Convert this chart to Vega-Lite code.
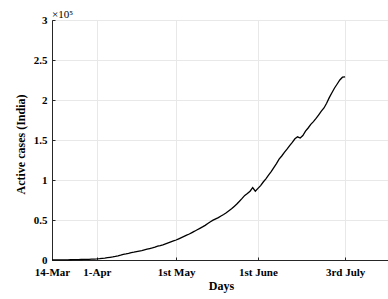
{
  "$schema": "https://vega.github.io/schema/vega-lite/v6.json",
  "width": 338,
  "height": 240,
  "autosize": {"type": "none"},
  "padding": {"left": 52, "top": 20, "right": 0, "bottom": 39},
  "background": "white",
  "title": {
    "text": "×10⁵",
    "anchor": "start",
    "frame": "group",
    "baseline": "bottom",
    "offset": 0,
    "dy": 17,
    "font": "Liberation Serif",
    "fontSize": 11,
    "fontWeight": "normal",
    "color": "#000000"
  },
  "config": {
    "view": {"stroke": "#262626", "strokeWidth": 1},
    "axis": {
      "labelFont": "Liberation Serif",
      "labelFontWeight": "bold",
      "labelFontSize": 11,
      "labelColor": "#000000",
      "titleFont": "Liberation Serif",
      "titleFontWeight": "bold",
      "titleFontSize": 12,
      "titleColor": "#000000",
      "domainColor": "#262626",
      "tickColor": "#262626",
      "gridColor": "#e8e8e8",
      "gridWidth": 1,
      "domainWidth": 1,
      "tickSize": -3,
      "labelAngle": 0
    }
  },
  "data": {
    "values": [
      {"day": 0, "active": 80}, {"day": 1, "active": 90}, {"day": 2, "active": 100}, {"day": 3, "active": 120},
      {"day": 4, "active": 150}, {"day": 5, "active": 200}, {"day": 6, "active": 250}, {"day": 7, "active": 320},
      {"day": 8, "active": 400}, {"day": 9, "active": 500}, {"day": 10, "active": 560}, {"day": 11, "active": 640},
      {"day": 12, "active": 730}, {"day": 13, "active": 850}, {"day": 14, "active": 900}, {"day": 15, "active": 1100},
      {"day": 16, "active": 1200}, {"day": 17, "active": 1300}, {"day": 18, "active": 1600}, {"day": 19, "active": 2000},
      {"day": 20, "active": 2400}, {"day": 21, "active": 2900}, {"day": 22, "active": 3400}, {"day": 23, "active": 3900},
      {"day": 24, "active": 4500}, {"day": 25, "active": 5200}, {"day": 26, "active": 6000}, {"day": 27, "active": 7000},
      {"day": 28, "active": 7600}, {"day": 29, "active": 8300}, {"day": 30, "active": 9200}, {"day": 31, "active": 9800},
      {"day": 32, "active": 10500}, {"day": 33, "active": 11200}, {"day": 34, "active": 11800}, {"day": 35, "active": 12700},
      {"day": 36, "active": 13500}, {"day": 37, "active": 14300}, {"day": 38, "active": 15100}, {"day": 39, "active": 16000},
      {"day": 40, "active": 17300}, {"day": 41, "active": 18000}, {"day": 42, "active": 19000}, {"day": 43, "active": 20200},
      {"day": 44, "active": 21400}, {"day": 45, "active": 22600}, {"day": 46, "active": 23800}, {"day": 47, "active": 25000},
      {"day": 48, "active": 26500}, {"day": 49, "active": 28000}, {"day": 50, "active": 29500}, {"day": 51, "active": 31000},
      {"day": 52, "active": 32500}, {"day": 53, "active": 34300}, {"day": 54, "active": 36000}, {"day": 55, "active": 37800},
      {"day": 56, "active": 39600}, {"day": 57, "active": 41400}, {"day": 58, "active": 43300}, {"day": 59, "active": 45600},
      {"day": 60, "active": 47800}, {"day": 61, "active": 49800}, {"day": 62, "active": 51500}, {"day": 63, "active": 53000},
      {"day": 64, "active": 55000}, {"day": 65, "active": 56800}, {"day": 66, "active": 59000}, {"day": 67, "active": 61500},
      {"day": 68, "active": 64000}, {"day": 69, "active": 67000}, {"day": 70, "active": 70000}, {"day": 71, "active": 73500},
      {"day": 72, "active": 77000}, {"day": 73, "active": 80700}, {"day": 74, "active": 83000}, {"day": 75, "active": 86000},
      {"day": 76, "active": 90500}, {"day": 77, "active": 86000}, {"day": 78, "active": 89500}, {"day": 79, "active": 93000},
      {"day": 80, "active": 97500}, {"day": 81, "active": 101500}, {"day": 82, "active": 106000}, {"day": 83, "active": 110500},
      {"day": 84, "active": 115500}, {"day": 85, "active": 120500}, {"day": 86, "active": 126000}, {"day": 87, "active": 130000},
      {"day": 88, "active": 134500}, {"day": 89, "active": 138500}, {"day": 90, "active": 143000}, {"day": 91, "active": 147000},
      {"day": 92, "active": 151500}, {"day": 93, "active": 154000}, {"day": 94, "active": 152500}, {"day": 95, "active": 155500},
      {"day": 96, "active": 161000}, {"day": 97, "active": 165000}, {"day": 98, "active": 169500}, {"day": 99, "active": 173000},
      {"day": 100, "active": 177000}, {"day": 101, "active": 181500}, {"day": 102, "active": 186000}, {"day": 103, "active": 190000},
      {"day": 104, "active": 196000}, {"day": 105, "active": 203000}, {"day": 106, "active": 209000}, {"day": 107, "active": 215000},
      {"day": 108, "active": 220000}, {"day": 109, "active": 225000}, {"day": 110, "active": 228500}, {"day": 111, "active": 229000}
    ]
  },
  "mark": {"type": "line", "color": "#000000", "strokeWidth": 1.3},
  "encoding": {
    "x": {
      "field": "day",
      "type": "quantitative",
      "scale": {"domain": [0, 128], "nice": false, "zero": false},
      "axis": {
        "orient": "bottom",
        "title": "Days",
        "values": [0, 17, 47, 78, 111],
        "labelExpr": "datum.value == 0 ? '14-Mar' : datum.value == 17 ? '1-Apr' : datum.value == 47 ? '1st May' : datum.value == 78 ? '1st June' : '3rd July'",
        "labelPadding": 9,
        "titlePadding": 3,
        "labelFlush": false,
        "labelOverlap": false
      }
    },
    "y": {
      "field": "active",
      "type": "quantitative",
      "scale": {"domain": [0, 300000], "nice": false},
      "axis": {
        "title": "Active cases (India)",
        "titleY": 124,
        "values": [0, 50000, 100000, 150000, 200000, 250000, 300000],
        "labelExpr": "'' + (datum.value / 100000)",
        "labelPadding": 8,
        "titlePadding": 6,
        "labelFlush": false,
        "labelOverlap": false
      }
    }
  }
}
